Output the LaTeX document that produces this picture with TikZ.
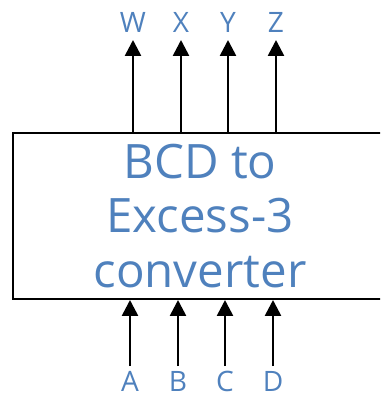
\documentclass[tikz,border=0pt]{standalone}
\usepackage{fontspec}
\setsansfont{Open Sans}
\usetikzlibrary{arrows.meta,positioning}
\definecolor{LabelBlue}{HTML}{4F81BD}
\tikzset{
  every node/.style={font=\sffamily, text=LabelBlue},
  block/.style={draw=black, line width=1.5pt, fill=white},
  signal/.style={-{Triangle[length=3.2mm,width=3.2mm]}, draw=black, line width=1.5pt},
  pin/.style={font=\sffamily\fontsize{16}{19}\selectfont, inner sep=0pt},
}

\begin{document}
\begin{tikzpicture}[x=0.02cm,y=-0.02cm]
  \useasboundingbox (0,0) rectangle (380,398);
  \clip (0,0) rectangle (380,398);
  % Converter block (right side runs off the picture)
  \draw[block] (13,133) rectangle (395,299);
  \node[font=\sffamily\fontsize{27}{31}\selectfont, align=center] (title) at (200,216)
    {BCD to\\Excess-3\\converter};
  % Outputs
  \foreach \x/\n in {133/W, 181/X, 228/Y, 276/Z}{
    \coordinate (out\n) at (\x,132);
    \node[pin] (lbl\n) at (\x,22) {\n};
    \draw[signal] (out\n) -- (\x,40);
  }
  % Inputs
  \foreach \x/\n in {130/A, 178/B, 225/C, 273/D}{
    \coordinate (in\n) at (\x,366);
    \node[pin] (lbl\n) at (\x,381) {\n};
    \draw[signal] (in\n) -- (\x,300);
  }
\end{tikzpicture}
\end{document}
